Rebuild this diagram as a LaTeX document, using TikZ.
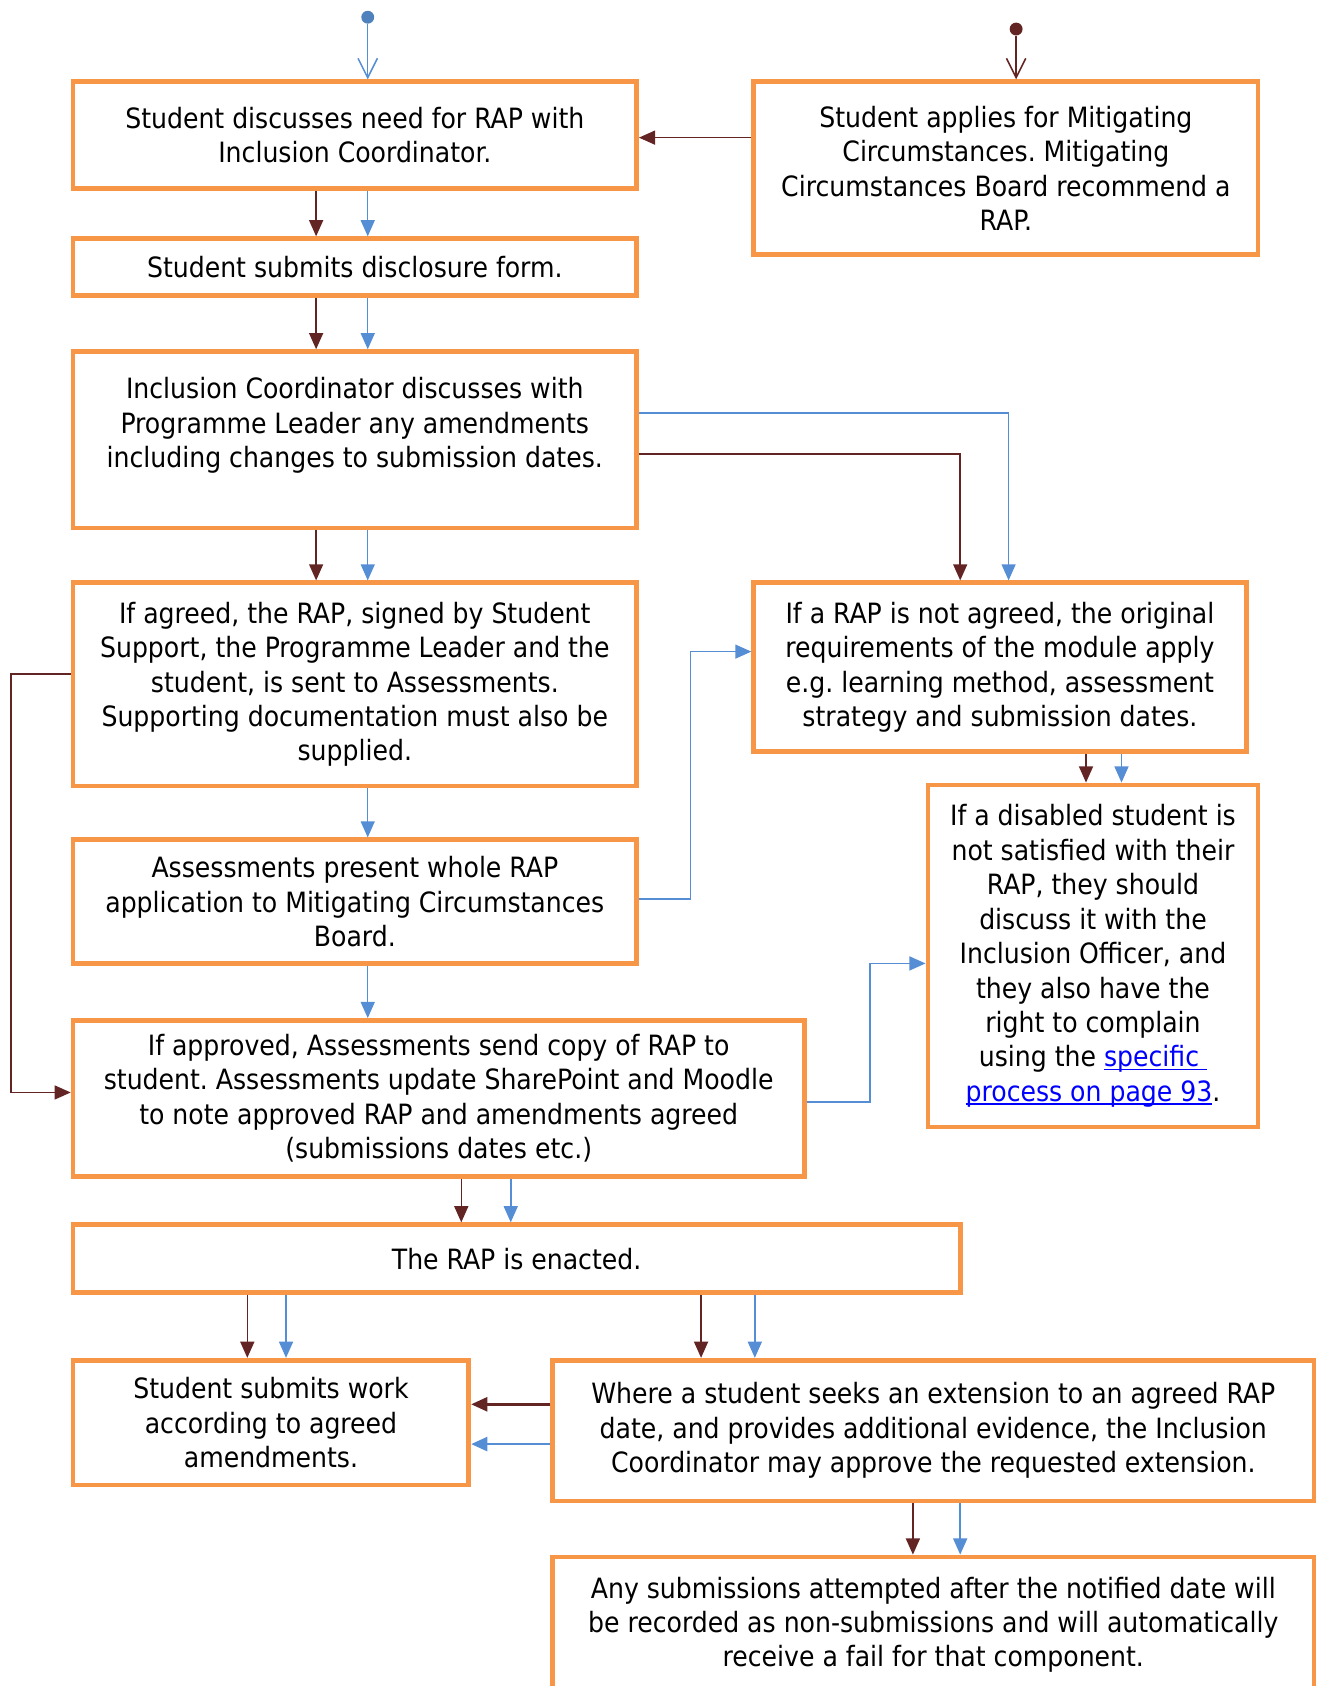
\documentclass[tikz,border=0pt]{standalone}
\usepackage{fontspec}
\setmainfont{DejaVu Sans Condensed}
\usepackage{xcolor}
\usetikzlibrary{arrows.meta}
\definecolor{boxorange}{HTML}{F79646}
\definecolor{darkred}{HTML}{632523}
\definecolor{lineblue}{HTML}{558ED5}
\definecolor{dotblue}{HTML}{4F81BD}
\definecolor{linkblue}{HTML}{0000FF}
\newcommand{\pagelink}[1]{{\color{linkblue}\setbox0=\hbox{#1}\rlap{\rule[-1.6pt]{\wd0}{0.6pt}}\box0}}
\frenchspacing

\begin{document}
\begin{tikzpicture}[
			x=0.5pt, y=-0.5pt,
			box/.style={rectangle, draw=boxorange, line width=2.2pt, fill=white, inner sep=0pt, align=center, font={\fontsize{13pt}{16pt}\selectfont}},
			dot/.style={circle, inner sep=0pt, minimum size=6pt},
			edge/.style={line width=0.7pt, -{Triangle[length=7.5pt,width=6.5pt]}},
			redline/.style={edge, darkred},
			blueline/.style={edge, lineblue},
			start/.style={line width=0.7pt, -{Straight Barb[length=9pt,width=9pt]}}
		]
		\useasboundingbox (0,0) rectangle (1226,1568);

		\node[dot, fill=dotblue] (s1) at (342,16) {};
		\node[dot, fill=darkred] (s2) at (945,27) {};

		\node[box, minimum width=262pt, minimum height=49.5pt] (1) at (330,125.5) {Student discusses need for RAP with\\Inclusion Coordinator.};
		\node[box, minimum width=234.5pt, minimum height=80.5pt] (2) at (935.5,156.5) {Student applies for Mitigating\\Circumstances. Mitigating\\Circumstances Board recommend a\\RAP.};
		\node[box, minimum width=262pt, minimum height=26.5pt] (3) at (330,248.5) {Student submits disclosure form.};
		\node[box, minimum width=262pt, minimum height=82pt] (4) at (330,409) {Inclusion Coordinator discusses with\\Programme Leader any amendments\\including changes to submission dates.\\ \mbox{}};
		\node[box, minimum width=262pt, minimum height=94.5pt] (5) at (330,636.5) {If agreed, the RAP, signed by Student\\Support, the Programme Leader and the\\student, is sent to Assessments.\\Supporting documentation must also be\\supplied.};
		\node[box, minimum width=229pt, minimum height=78.5pt] (6) at (930,620.5) {If a RAP is not agreed, the original\\requirements of the module apply\\e.g. learning method, assessment\\strategy and submission dates.};
		\node[box, minimum width=262pt, minimum height=57.5pt] (7) at (330,838.5) {Assessments present whole RAP\\application to Mitigating Circumstances\\Board.};
		\node[box, minimum width=153.5pt, minimum height=159pt] (8) at (1016.5,889) {If a disabled student is\\not satisfied with their\\RAP, they should\\discuss it with the\\Inclusion Officer, and\\they also have the\\right to complain\\using the \pagelink{specific\ }\\\pagelink{process on page 93}.};
		\node[box, minimum width=340pt, minimum height=72.5pt] (9) at (408,1021.5) {If approved, Assessments send copy of RAP to\\student. Assessments update SharePoint and Moodle\\to note approved RAP and amendments agreed\\(submissions dates etc.)};
		\node[box, minimum width=412.5pt, minimum height=31.5pt] (10) at (480.5,1170.5) {The RAP is enacted.};
		\node[box, minimum width=184pt, minimum height=58pt] (11) at (252,1323) {Student submits work\\according to agreed\\amendments.};
		\node[box, minimum width=354pt, minimum height=65.5pt] (12) at (868,1330.5) {Where a student seeks an extension to an agreed RAP\\date, and provides additional evidence, the Inclusion\\Coordinator may approve the requested extension.};
		\node[box, minimum width=354pt, minimum height=63pt] (13) at (868,1511) {Any submissions attempted after the notified date will\\be recorded as non-submissions and will automatically\\receive a fail for that component.};

		% entry points
		\draw[start, lineblue] (s1) -- (1.north -| s1);
		\draw[start, darkred] (s2) -- (2.north -| s2);

		\draw[redline] (2.west |- 0,128) -- (1.east |- 0,128);
		\draw[redline] (1.south -| 294,0) -- (3.north -| 294,0);
		\draw[blueline] (1.south -| 342,0) -- (3.north -| 342,0);
		\draw[redline] (3.south -| 294,0) -- (4.north -| 294,0);
		\draw[blueline] (3.south -| 342,0) -- (4.north -| 342,0);
		\draw[blueline] (4.east |- 0,384) -| (6.north -| 938,0);
		\draw[redline] (4.east |- 0,422) -| (6.north -| 893,0);
		\draw[redline] (4.south -| 294,0) -- (5.north -| 294,0);
		\draw[blueline] (4.south -| 342,0) -- (5.north -| 342,0);
		\draw[blueline] (5.south -| 342,0) -- (7.north -| 342,0);
		\draw[redline] (5.west |- 0,627) -- (10,627) |- (9.west |- 0,1016);
		\draw[blueline] (7.east |- 0,836) -- (642,836) |- (6.west |- 0,606);
		\draw[blueline] (7.south -| 342,0) -- (9.north -| 342,0);
		\draw[redline] (6.south -| 1010,0) -- (8.north -| 1010,0);
		\draw[blueline] (6.south -| 1043,0) -- (8.north -| 1043,0);
		\draw[blueline] (9.east |- 0,1025) -- (809,1025) |- (8.west |- 0,896);
		\draw[redline] (9.south -| 429,0) -- (10.north -| 429,0);
		\draw[blueline] (9.south -| 475,0) -- (10.north -| 475,0);
		\draw[redline] (10.south -| 230,0) -- (11.north -| 230,0);
		\draw[blueline] (10.south -| 266,0) -- (11.north -| 266,0);
		\draw[redline] (10.south -| 652,0) -- (12.north -| 652,0);
		\draw[blueline] (10.south -| 702,0) -- (12.north -| 702,0);
		\draw[redline, line width=1.2pt] (12.west |- 0,1306) -- (11.east |- 0,1306);
		\draw[blueline, line width=1.2pt] (12.west |- 0,1343) -- (11.east |- 0,1343);
		\draw[redline] (12.south -| 849,0) -- (13.north -| 849,0);
		\draw[blueline] (12.south -| 893,0) -- (13.north -| 893,0);
	\end{tikzpicture}
\end{document}
